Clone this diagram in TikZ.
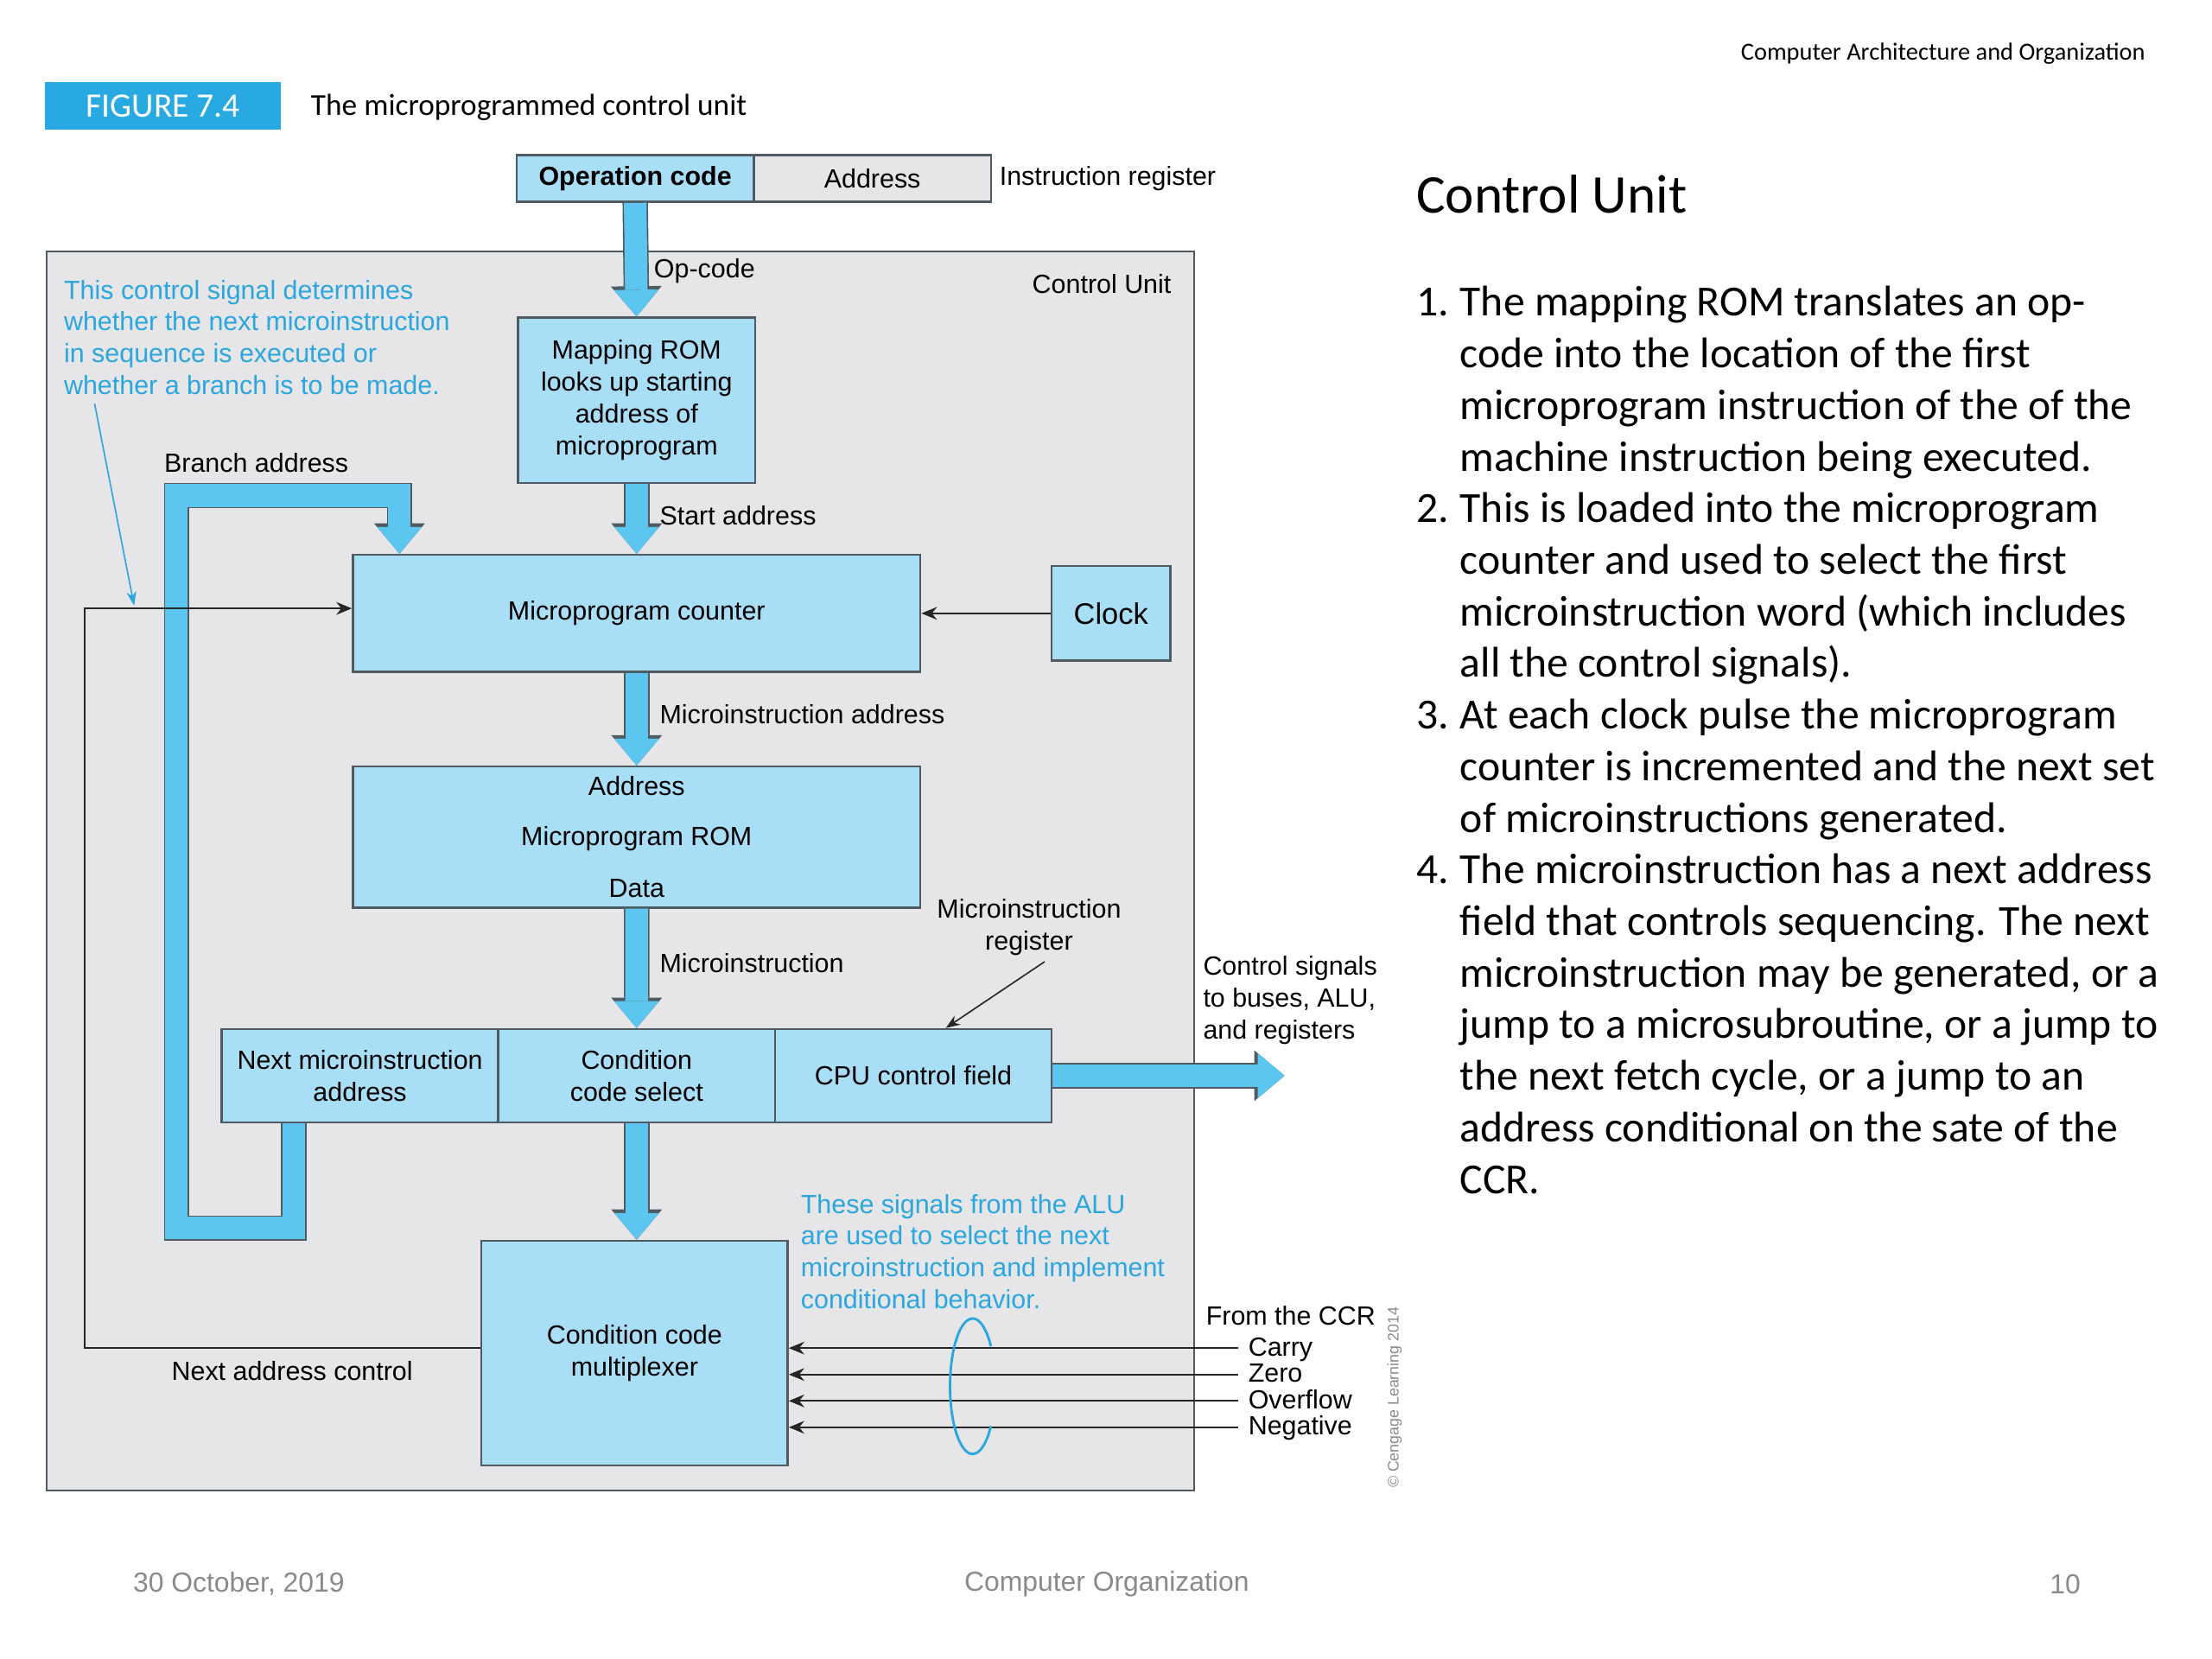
\documentclass[tikz,border=0pt]{standalone}
\usepackage{fontspec}
\setmainfont{Liberation Sans}
\newfontfamily\calibfont{Carlito}
\usetikzlibrary{arrows.meta}

\definecolor{figblue}{HTML}{29A9E1}
\definecolor{boxblue}{HTML}{A9DEF7}
\definecolor{tubeblue}{HTML}{5CC6F1}
\definecolor{panelgray}{HTML}{E6E6E8}
\definecolor{edgegray}{HTML}{4F5B60}
\definecolor{noteblue}{HTML}{2BA6DF}
\definecolor{footgray}{HTML}{8A8A8A}

\newcommand{\diagfont}{\fontsize{10.6}{12.8}\selectfont}

\begin{document}
\begin{tikzpicture}[x=0.2mm, y=-0.2mm,
  every node/.style={font=\diagfont, inner sep=0pt},
  block/.style={draw=edgegray, line width=0.3mm, fill=boxblue, align=center},
  fatarrow/.style={tubeblue, line width=3.2mm, line join=miter,
    -{Triangle[width=6.4mm, length=3.8mm, line width=0pt]},
    preaction={draw=edgegray, line width=3.6mm, line join=miter,
      -{Triangle[width=7.2mm, length=4.3mm, line width=0pt]}}},
  wire/.style={draw=black!85, line width=0.25mm, -{Stealth[length=2.2mm, width=1.8mm]}},
  note/.style={text=noteblue, align=left}]

\useasboundingbox (0,0) rectangle (1567,1175);
\fill[white] (0,0) rectangle (1567,1175);

\node[anchor=east, font=\calibfont\fontsize{9.9}{12}\selectfont] (header) at (1520,38) {Computer Architecture and Organization};

\node[fill=figblue, text=white, minimum width=33.4mm, minimum height=6.8mm, font=\calibfont\fontsize{13.8}{16}\selectfont] (figtag) at (115.5,75) {FIGURE 7.4};
\node[anchor=west, font=\calibfont\fontsize{12.3}{14}\selectfont] (figtitle) at (220,76) {The microprogrammed control unit};

% instruction register
\node[block, font=\diagfont\bfseries, minimum width=33.6mm, minimum height=6.6mm] (opcode) at (450,126.5) {Operation code};
\node[block, fill=panelgray, minimum width=33.6mm, minimum height=6.6mm, right of=opcode, node distance=33.6mm] (addrfield) {Address};
\node[anchor=west, xshift=1mm] (irlabel) at (addrfield.east) {Instruction register};

% control unit
\node[draw=edgegray, line width=0.3mm, fill=panelgray, minimum width=162.6mm, minimum height=175.6mm] (panel) at (439.5,617) {};
\node[anchor=east] (cutitle) at (830,201) {Control Unit};

\node[block, minimum width=33.6mm, minimum height=23.4mm] (maprom) at (451,283.5) {Mapping ROM\\looks up starting\\address of\\microprogram};
\node[block, minimum width=80.4mm, minimum height=16.6mm] (counter) at (451,434.5) {Microprogram counter};
\node[block, minimum width=16.8mm, minimum height=13.4mm, font=\fontsize{12}{14}\selectfont] (clock) at (787,434.5) {Clock};
\node[block, minimum width=80.4mm, minimum height=20mm] (uprom) at (451,593) {Address\\[2.6mm]Microprogram ROM\\[2.8mm]Data};

\node[block, minimum width=39.2mm, minimum height=13.2mm] (nextaddr) at (255,762) {Next microinstruction\\address};
\node[block, minimum width=39.2mm, minimum height=13.2mm, right of=nextaddr, node distance=39.2mm] (ccsel) {Condition\\code select};
\node[block, minimum width=39.2mm, minimum height=13.2mm, right of=ccsel, node distance=39.2mm] (cpufield) {CPU control field};

\node[block, minimum width=43.4mm, minimum height=31.8mm] (ccmux) at (449.5,958.5) {Condition code\\multiplexer};

% labels
\node[anchor=west] (oplabel) at (463,192) {Op-code};
\node[anchor=west] (startlabel) at (467,365) {Start address};
\node[anchor=west] (ualabel) at (467,506) {Microinstruction address};
\node[anchor=west] (uilabel) at (467,682) {Microinstruction};
\node[anchor=west] (brlabel) at (116,328) {Branch address};
\node[align=center] (mirlabel) at (729,657) {Microinstruction\\register};
\node[anchor=west, align=left] (sigslabel) at (852,708.5) {Control signals\\to buses, ALU,\\and registers};
\node (nalabel) at (207,971) {Next address control};
\node[anchor=west] (ccrlabel) at (854,932) {From the CCR};

\node[note, anchor=west] (ctrlnote) at (45,239) {This control signal determines\\whether the next microinstruction\\in sequence is executed or\\whether a branch is to be made.};
\node[note, anchor=west] (alunote) at (567,886.5) {These signals from the ALU\\are used to select the next\\microinstruction and implement\\conditional behavior.};

% fat arrows
\draw[fatarrow] (opcode.south) -- (maprom.north);
\draw[fatarrow] (maprom.south) -- (counter.north);
\draw[fatarrow] (counter.south) -- (uprom.north);
\draw[fatarrow] (uprom.south) -- (ccsel.north);
\draw[fatarrow] (ccsel.south) -- (ccsel.south |- ccmux.north);
\coordinate (ctrlout) at (910,762);
\draw[fatarrow] (cpufield.east) -- (ctrlout);
\draw[fatarrow] (208,0 |- nextaddr.south) -- (208,870) -| (125,351) -| (283,0 |- counter.north);

% thin wires
\draw[wire] (clock.west) -- (counter.east |- clock.west);
\draw[wire] (ccmux.west |- 0,955) -- (60,955) |- (counter.west |- 0,431);
\draw[draw=black!85, line width=0.2mm, -{Stealth[length=2mm, width=1.5mm]}] ([xshift=2.2mm, yshift=-0.8mm]mirlabel.south) -- ([xshift=4.6mm]cpufield.north);
\coordinate (notetip) at (95,429);
\draw[draw=noteblue, line width=0.2mm, -{Stealth[length=2mm, width=1.4mm]}] ([xshift=4.4mm, yshift=-1.2mm]ctrlnote.south west) -- (notetip);

\foreach \flag [count=\i from 0] in {Carry,Zero,Overflow,Negative}
  \node[anchor=west, inner xsep=1.4mm, text height=1.6ex, text depth=0.4ex] (ccr\i) at (877,{955+18.7*\i}) {\flag};
\foreach \i in {0,...,3}
  \draw[wire] (ccr\i.west) -- (ccr\i.west -| ccmux.east);
\draw[noteblue, line width=0.35mm] (689,982) ++(36:16 and 48) arc[start angle=36, end angle=324, x radius=16, y radius=48];

\node[rotate=90, text=footgray, font=\fontsize{6.2}{7}\selectfont] (copyr) at (988,990) {\textcopyright{} Cengage Learning 2014};

% slide text
\node[anchor=base west, font=\calibfont\fontsize{22}{26}\selectfont] (cuhead) at (1003,151) {Control Unit};
\node[anchor=base west, font=\calibfont\fontsize{17.3}{20.8}\selectfont] (cunotes) at (1003,224) {%
\begin{tabular}[t]{@{}p{6.2mm}@{}l@{}}
1. & The mapping ROM translates an op-\\
   & code into the location of the first\\
   & microprogram instruction of the of the\\
   & machine instruction being executed.\\
2. & This is loaded into the microprogram\\
   & counter and used to select the first\\
   & microinstruction word (which includes\\
   & all the control signals).\\
3. & At each clock pulse the microprogram\\
   & counter is incremented and the next set\\
   & of microinstructions generated.\\
4. & The microinstruction has a next address\\
   & field that controls sequencing. The next\\
   & microinstruction may be generated, or a\\
   & jump to a microsubroutine, or a jump to\\
   & the next fetch cycle, or a jump to an\\
   & address conditional on the sate of the\\
   & CCR.
\end{tabular}};

\node[anchor=west, text=footgray, font=\fontsize{11.1}{13}\selectfont] (fdate) at (94,1122) {30 October, 2019};
\node[text=footgray, font=\fontsize{11.1}{13}\selectfont] (fcourse) at (784,1122) {Computer Organization};
\node[text=footgray, font=\fontsize{11.1}{13}\selectfont] (fpage) at (1463,1122) {10};

\end{tikzpicture}
\end{document}
